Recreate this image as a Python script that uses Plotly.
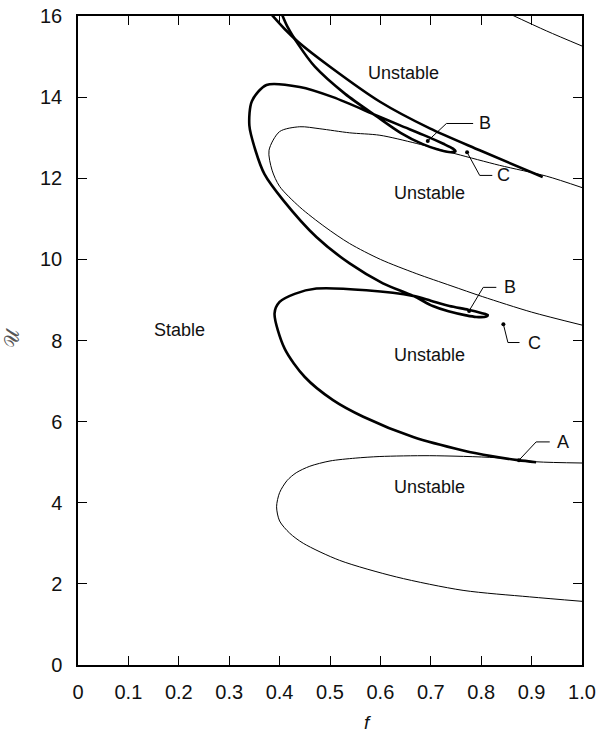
import plotly.graph_objects as go

# ---- data ----
x_ticks = [0, 0.1, 0.2, 0.3, 0.4, 0.5, 0.6, 0.7, 0.8, 0.9, 1.0]
x_ticktext = ["0", "0.1", "0.2", "0.3", "0.4", "0.5", "0.6", "0.7", "0.8", "0.9", "1.0"]
y_ticks = [0, 2, 4, 6, 8, 10, 12, 14, 16]
y_ticktext = ["0", "2", "4", "6", "8", "10", "12", "14", "16"]

# thin boundary, lower loop
thin_low_f = [1.0, 0.909, 0.83, 0.698, 0.599, 0.55, 0.5, 0.46, 0.433, 0.415, 0.40, 0.394, 0.40, 0.42, 0.447, 0.519, 0.632, 0.764, 0.896, 1.0]
thin_low_u = [4.98, 5.01, 5.11, 5.16, 5.14, 5.1, 5.03, 4.9, 4.74, 4.55, 4.25, 3.90, 3.55, 3.25, 3.0, 2.58, 2.17, 1.84, 1.68, 1.57]

# thin boundary, upper loop
thin_mid_f = [1.0, 0.93, 0.836, 0.75, 0.671, 0.599, 0.539, 0.48, 0.44, 0.40, 0.379, 0.385, 0.40, 0.44, 0.49, 0.539, 0.6, 0.671, 0.74, 0.803, 0.9, 1.0]
thin_mid_u = [11.77, 12.05, 12.32, 12.6, 12.86, 13.06, 13.12, 13.22, 13.27, 13.15, 12.69, 12.2, 11.8, 11.29, 10.8, 10.39, 10.0, 9.65, 9.35, 9.08, 8.7, 8.38]

# thin boundary, top-right corner
thin_top_f = [0.855, 0.93, 1.0]
thin_top_u = [16.06, 15.63, 15.26]

# thick boundary (spiral from A upward)
thick_sp_f = [0.909, 0.873, 0.82, 0.764, 0.665, 0.566, 0.506, 0.45, 0.41, 0.39, 0.40, 0.43, 0.473, 0.572,
              0.665, 0.70, 0.737, 0.774, 0.80, 0.813, 0.81, 0.79, 0.770, 0.735, 0.704, 0.665,
              0.605, 0.539, 0.473, 0.407, 0.37, 0.352, 0.34, 0.345, 0.374, 0.44, 0.506, 0.592,
              0.638, 0.691, 0.725, 0.744, 0.749, 0.74, 0.711, 0.684, 0.64, 0.592,
              0.53, 0.47, 0.437, 0.415, 0.404]
thick_sp_u = [5.0, 5.05, 5.15, 5.29, 5.62, 6.12, 6.53, 7.1, 7.8, 8.67, 8.95, 9.15, 9.28, 9.24,
              9.10, 8.98, 8.85, 8.76, 8.68, 8.63, 8.59, 8.58, 8.62, 8.72, 8.85, 9.10,
              9.41, 9.90, 10.55, 11.46, 12.1, 12.69, 13.3, 13.9, 14.3, 14.25, 14.0, 13.55,
              13.31, 13.04, 12.85, 12.73, 12.67, 12.64, 12.72, 12.84, 13.12, 13.53,
              14.08, 14.75, 15.3, 15.75, 16.06]

# thick boundary (upper right branch)
thick_br_f = [0.383, 0.41, 0.437, 0.50, 0.60, 0.698, 0.797, 0.922]
thick_br_u = [16.05, 15.68, 15.36, 14.75, 13.88, 13.23, 12.69, 12.03]

# region labels
region_text = ["Unstable", "Unstable", "Stable", "Unstable", "Unstable"]
region_f = [0.646, 0.698, 0.202, 0.698, 0.698]
region_u = [14.59, 11.63, 8.25, 7.64, 4.38]

# point labels: marker point, leader elbow, leader end, label position
pt_text = ["A", "B", "C", "B", "C"]
pt_f = [0.875, 0.776, 0.844, 0.694, 0.772]
pt_u = [5.05, 8.73, 8.40, 12.92, 12.64]
elbow_f = [0.909, 0.804, 0.853, 0.731, 0.797]
elbow_u = [5.50, 9.31, 7.95, 13.35, 12.07]
lead_end_f = [0.936, 0.83, 0.876, 0.784, 0.822]
label_f = [0.962, 0.858, 0.905, 0.808, 0.845]

fig = go.Figure()

thin = dict(color="black", width=1.0, shape="spline", smoothing=0.8)
thick = dict(color="black", width=2.6, shape="spline", smoothing=0.8)

for fx, uy, ln in [(thin_low_f, thin_low_u, thin), (thin_mid_f, thin_mid_u, thin),
                   (thin_top_f, thin_top_u, thin), (thick_sp_f, thick_sp_u, thick),
                   (thick_br_f, thick_br_u, thick)]:
    fig.add_trace(go.Scatter(x=fx, y=uy, mode="lines", line=ln, hoverinfo="skip", showlegend=False))

# leader lines
for i in range(len(pt_text)):
    fig.add_trace(go.Scatter(
        x=[pt_f[i], elbow_f[i], lead_end_f[i]],
        y=[pt_u[i], elbow_u[i], elbow_u[i]],
        mode="lines", line=dict(color="black", width=1.0),
        hoverinfo="skip", showlegend=False))
fig.add_trace(go.Scatter(x=pt_f, y=pt_u, mode="markers",
                         marker=dict(color="black", size=4),
                         hoverinfo="skip", showlegend=False))

for t, fx, uy in zip(region_text, region_f, region_u):
    fig.add_annotation(x=fx, y=uy, text=t, showarrow=False,
                       font=dict(family="Liberation Sans", size=18, color="#111"))
for t, fx, uy in zip(pt_text, label_f, elbow_u):
    fig.add_annotation(x=fx, y=uy, text=t, showarrow=False,
                       font=dict(family="Liberation Sans", size=18, color="#111"))

# axis titles
fig.add_annotation(x=0.575, y=-0.088, xref="paper", yref="paper", text="<i>f</i>",
                   xanchor="center", yanchor="middle",
                   showarrow=False, font=dict(family="Liberation Sans", size=19, color="#111"))
fig.add_annotation(x=-0.13, y=0.505, xref="paper", yref="paper", text="𝒰", textangle=-90,
                   xanchor="center", yanchor="middle",
                   showarrow=False, font=dict(family="DejaVu Serif", size=20, color="#555"))

axis_common = dict(showline=True, linecolor="black", linewidth=1.5, mirror="ticks",
                   ticks="inside", ticklen=9, tickwidth=1.3, tickcolor="black",
                   showgrid=False, zeroline=False, automargin=False,
                   tickfont=dict(family="Liberation Sans", size=20, color="#111"))

fig.update_xaxes(range=[0, 1.0], tickvals=x_ticks, ticktext=x_ticktext,
                 ticklabelstandoff=8, **axis_common)
fig.update_yaxes(range=[0, 16], tickvals=y_ticks, ticktext=y_ticktext,
                 ticklabelstandoff=10, **axis_common)

fig.update_layout(width=599, height=735, plot_bgcolor="white", paper_bgcolor="white",
                  margin=dict(l=78, r=17, t=16, b=70))

fig.write_html("out.html", config={"displayModeBar": False},
               post_script="document.body.style.margin='0';document.body.style.overflow='hidden';")
